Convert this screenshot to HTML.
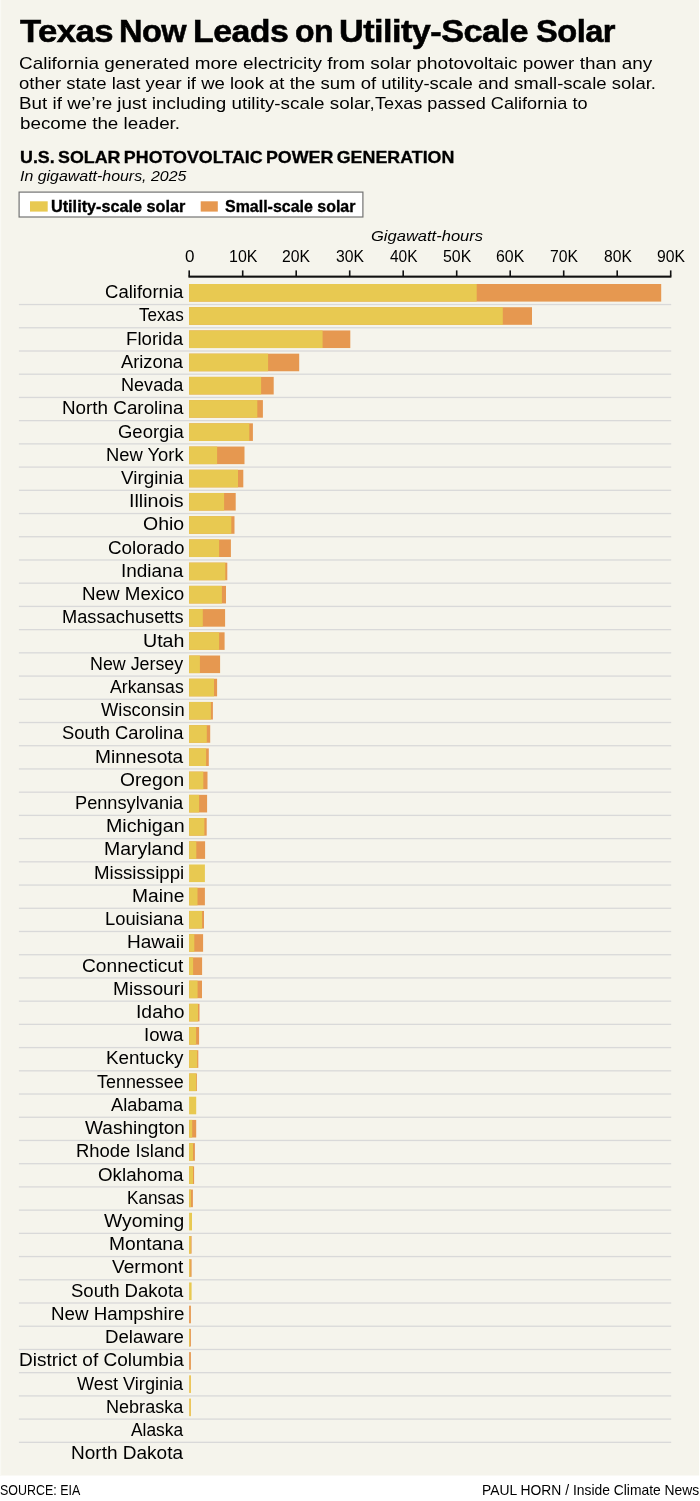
<!DOCTYPE html><html><head><meta charset="utf-8"><title>Texas Now Leads on Utility-Scale Solar</title><style>
html,body{margin:0;padding:0;background:#fff;}
body{width:700px;height:1501px;position:relative;overflow:hidden;font-family:"Liberation Sans",sans-serif;color:#000;}
svg{position:absolute;left:0;top:0;}
.t{position:absolute;white-space:nowrap;line-height:1;margin:0;padding:0;transform-origin:0 0;}
#tx{position:absolute;left:0;top:0;width:700px;height:1501px;will-change:transform;}
.y{fill:#e8c951}.o{fill:#e69850}.s{fill:#d9d9d9}.k{fill:#111}
</style></head><body>
<svg width="700" height="1501" viewBox="0 0 700 1501">
<rect x="0" y="0" width="699.1" height="1475.5" fill="#f5f4ec"/>
<rect x="0" y="0" width="1.2" height="1475.5" fill="#f9f9f4"/>
<rect x="19.1" y="192.1" width="343.8" height="24.9" fill="#fff" stroke="#737373" stroke-width="1.2"/>
<rect class="y" x="30" y="201.3" width="17.7" height="10.3"/>
<rect class="o" x="200.7" y="201.3" width="17.1" height="10.3"/>
<rect class="k" x="188.4" y="275.6" width="483.0" height="2.1"/>
<rect class="k" x="188.40" y="270.4" width="1.6" height="6"/>
<rect class="k" x="241.90" y="270.4" width="1.6" height="6"/>
<rect class="k" x="295.40" y="270.4" width="1.6" height="6"/>
<rect class="k" x="348.90" y="270.4" width="1.6" height="6"/>
<rect class="k" x="402.40" y="270.4" width="1.6" height="6"/>
<rect class="k" x="455.90" y="270.4" width="1.6" height="6"/>
<rect class="k" x="509.40" y="270.4" width="1.6" height="6"/>
<rect class="k" x="562.90" y="270.4" width="1.6" height="6"/>
<rect class="k" x="616.40" y="270.4" width="1.6" height="6"/>
<rect class="k" x="669.90" y="270.4" width="1.6" height="6"/>
<rect class="o" x="189.1" y="284.00" width="472.1" height="17.6"/>
<rect class="y" x="189.1" y="284.00" width="287.6" height="17.6"/>
<rect class="s" x="18.9" y="303.90" width="652.3" height="1.3"/>
<rect class="o" x="189.1" y="307.22" width="342.9" height="17.6"/>
<rect class="y" x="189.1" y="307.22" width="313.7" height="17.6"/>
<rect class="s" x="18.9" y="327.12" width="652.3" height="1.3"/>
<rect class="o" x="189.1" y="330.44" width="161.2" height="17.6"/>
<rect class="y" x="189.1" y="330.44" width="133.5" height="17.6"/>
<rect class="s" x="18.9" y="350.34" width="652.3" height="1.3"/>
<rect class="o" x="189.1" y="353.66" width="110.1" height="17.6"/>
<rect class="y" x="189.1" y="353.66" width="79.0" height="17.6"/>
<rect class="s" x="18.9" y="373.56" width="652.3" height="1.3"/>
<rect class="o" x="189.1" y="376.88" width="84.6" height="17.6"/>
<rect class="y" x="189.1" y="376.88" width="72.0" height="17.6"/>
<rect class="s" x="18.9" y="396.78" width="652.3" height="1.3"/>
<rect class="o" x="189.1" y="400.10" width="73.8" height="17.6"/>
<rect class="y" x="189.1" y="400.10" width="68.2" height="17.6"/>
<rect class="s" x="18.9" y="420.00" width="652.3" height="1.3"/>
<rect class="o" x="189.1" y="423.32" width="63.8" height="17.6"/>
<rect class="y" x="189.1" y="423.32" width="60.2" height="17.6"/>
<rect class="s" x="18.9" y="443.22" width="652.3" height="1.3"/>
<rect class="o" x="189.1" y="446.54" width="55.4" height="17.6"/>
<rect class="y" x="189.1" y="446.54" width="28.0" height="17.6"/>
<rect class="s" x="18.9" y="466.44" width="652.3" height="1.3"/>
<rect class="o" x="189.1" y="469.76" width="54.2" height="17.6"/>
<rect class="y" x="189.1" y="469.76" width="48.9" height="17.6"/>
<rect class="s" x="18.9" y="489.66" width="652.3" height="1.3"/>
<rect class="o" x="189.1" y="492.98" width="46.6" height="17.6"/>
<rect class="y" x="189.1" y="492.98" width="35.0" height="17.6"/>
<rect class="s" x="18.9" y="512.88" width="652.3" height="1.3"/>
<rect class="o" x="189.1" y="516.20" width="45.4" height="17.6"/>
<rect class="y" x="189.1" y="516.20" width="42.2" height="17.6"/>
<rect class="s" x="18.9" y="536.10" width="652.3" height="1.3"/>
<rect class="o" x="189.1" y="539.42" width="41.8" height="17.6"/>
<rect class="y" x="189.1" y="539.42" width="30.0" height="17.6"/>
<rect class="s" x="18.9" y="559.32" width="652.3" height="1.3"/>
<rect class="o" x="189.1" y="562.64" width="38.2" height="17.6"/>
<rect class="y" x="189.1" y="562.64" width="36.2" height="17.6"/>
<rect class="s" x="18.9" y="582.54" width="652.3" height="1.3"/>
<rect class="o" x="189.1" y="585.86" width="36.9" height="17.6"/>
<rect class="y" x="189.1" y="585.86" width="32.8" height="17.6"/>
<rect class="s" x="18.9" y="605.76" width="652.3" height="1.3"/>
<rect class="o" x="189.1" y="609.08" width="36.0" height="17.6"/>
<rect class="y" x="189.1" y="609.08" width="13.7" height="17.6"/>
<rect class="s" x="18.9" y="628.98" width="652.3" height="1.3"/>
<rect class="o" x="189.1" y="632.30" width="35.5" height="17.6"/>
<rect class="y" x="189.1" y="632.30" width="30.0" height="17.6"/>
<rect class="s" x="18.9" y="652.20" width="652.3" height="1.3"/>
<rect class="o" x="189.1" y="655.52" width="31.0" height="17.6"/>
<rect class="y" x="189.1" y="655.52" width="10.8" height="17.6"/>
<rect class="s" x="18.9" y="675.42" width="652.3" height="1.3"/>
<rect class="o" x="189.1" y="678.74" width="28.0" height="17.6"/>
<rect class="y" x="189.1" y="678.74" width="24.9" height="17.6"/>
<rect class="s" x="18.9" y="698.64" width="652.3" height="1.3"/>
<rect class="o" x="189.1" y="701.96" width="23.8" height="17.6"/>
<rect class="y" x="189.1" y="701.96" width="21.8" height="17.6"/>
<rect class="s" x="18.9" y="721.86" width="652.3" height="1.3"/>
<rect class="o" x="189.1" y="725.18" width="21.1" height="17.6"/>
<rect class="y" x="189.1" y="725.18" width="17.7" height="17.6"/>
<rect class="s" x="18.9" y="745.08" width="652.3" height="1.3"/>
<rect class="o" x="189.1" y="748.40" width="19.7" height="17.6"/>
<rect class="y" x="189.1" y="748.40" width="17.0" height="17.6"/>
<rect class="s" x="18.9" y="768.30" width="652.3" height="1.3"/>
<rect class="o" x="189.1" y="771.62" width="18.4" height="17.6"/>
<rect class="y" x="189.1" y="771.62" width="14.2" height="17.6"/>
<rect class="s" x="18.9" y="791.52" width="652.3" height="1.3"/>
<rect class="o" x="189.1" y="794.84" width="18.0" height="17.6"/>
<rect class="y" x="189.1" y="794.84" width="10.0" height="17.6"/>
<rect class="s" x="18.9" y="814.74" width="652.3" height="1.3"/>
<rect class="o" x="189.1" y="818.06" width="17.6" height="17.6"/>
<rect class="y" x="189.1" y="818.06" width="15.3" height="17.6"/>
<rect class="s" x="18.9" y="837.96" width="652.3" height="1.3"/>
<rect class="o" x="189.1" y="841.28" width="16.0" height="17.6"/>
<rect class="y" x="189.1" y="841.28" width="7.2" height="17.6"/>
<rect class="s" x="18.9" y="861.18" width="652.3" height="1.3"/>
<rect class="y" x="189.1" y="864.50" width="15.8" height="17.6"/>
<rect class="s" x="18.9" y="884.40" width="652.3" height="1.3"/>
<rect class="o" x="189.1" y="887.72" width="15.8" height="17.6"/>
<rect class="y" x="189.1" y="887.72" width="8.4" height="17.6"/>
<rect class="s" x="18.9" y="907.62" width="652.3" height="1.3"/>
<rect class="o" x="189.1" y="910.94" width="14.9" height="17.6"/>
<rect class="y" x="189.1" y="910.94" width="13.0" height="17.6"/>
<rect class="s" x="18.9" y="930.84" width="652.3" height="1.3"/>
<rect class="o" x="189.1" y="934.16" width="14.0" height="17.6"/>
<rect class="y" x="189.1" y="934.16" width="5.2" height="17.6"/>
<rect class="s" x="18.9" y="954.06" width="652.3" height="1.3"/>
<rect class="o" x="189.1" y="957.38" width="13.0" height="17.6"/>
<rect class="y" x="189.1" y="957.38" width="4.0" height="17.6"/>
<rect class="s" x="18.9" y="977.28" width="652.3" height="1.3"/>
<rect class="o" x="189.1" y="980.60" width="12.9" height="17.6"/>
<rect class="y" x="189.1" y="980.60" width="8.5" height="17.6"/>
<rect class="s" x="18.9" y="1000.50" width="652.3" height="1.3"/>
<rect class="o" x="189.1" y="1003.82" width="10.4" height="17.6"/>
<rect class="y" x="189.1" y="1003.82" width="8.9" height="17.6"/>
<rect class="s" x="18.9" y="1023.72" width="652.3" height="1.3"/>
<rect class="o" x="189.1" y="1027.04" width="10.0" height="17.6"/>
<rect class="y" x="189.1" y="1027.04" width="7.0" height="17.6"/>
<rect class="s" x="18.9" y="1046.94" width="652.3" height="1.3"/>
<rect class="o" x="189.1" y="1050.26" width="9.2" height="17.6"/>
<rect class="y" x="189.1" y="1050.26" width="8.1" height="17.6"/>
<rect class="s" x="18.9" y="1070.16" width="652.3" height="1.3"/>
<rect class="o" x="189.1" y="1073.48" width="7.8" height="17.6"/>
<rect class="y" x="189.1" y="1073.48" width="7.1" height="17.6"/>
<rect class="s" x="18.9" y="1093.38" width="652.3" height="1.3"/>
<rect class="y" x="189.1" y="1096.70" width="7.1" height="17.6"/>
<rect class="s" x="18.9" y="1116.60" width="652.3" height="1.3"/>
<rect class="o" x="189.1" y="1119.92" width="7.1" height="17.6"/>
<rect class="y" x="189.1" y="1119.92" width="3.1" height="17.6"/>
<rect class="s" x="18.9" y="1139.82" width="652.3" height="1.3"/>
<rect class="o" x="189.1" y="1143.14" width="5.8" height="17.6"/>
<rect class="y" x="189.1" y="1143.14" width="3.9" height="17.6"/>
<rect class="s" x="18.9" y="1163.04" width="652.3" height="1.3"/>
<rect class="o" x="189.1" y="1166.36" width="5.0" height="17.6"/>
<rect class="y" x="189.1" y="1166.36" width="3.9" height="17.6"/>
<rect class="s" x="18.9" y="1186.26" width="652.3" height="1.3"/>
<rect class="o" x="189.1" y="1189.58" width="3.8" height="17.6"/>
<rect class="y" x="189.1" y="1189.58" width="1.8" height="17.6"/>
<rect class="s" x="18.9" y="1209.48" width="652.3" height="1.3"/>
<rect class="y" x="189.1" y="1212.80" width="2.9" height="17.6"/>
<rect class="s" x="18.9" y="1232.70" width="652.3" height="1.3"/>
<rect class="o" x="189.1" y="1236.02" width="2.5" height="17.6"/>
<rect class="y" x="189.1" y="1236.02" width="1.6" height="17.6"/>
<rect class="s" x="18.9" y="1255.92" width="652.3" height="1.3"/>
<rect class="o" x="189.1" y="1259.24" width="2.5" height="17.6"/>
<rect class="y" x="189.1" y="1259.24" width="1.2" height="17.6"/>
<rect class="s" x="18.9" y="1279.14" width="652.3" height="1.3"/>
<rect class="y" x="189.1" y="1282.46" width="2.5" height="17.6"/>
<rect class="s" x="18.9" y="1302.36" width="652.3" height="1.3"/>
<rect class="o" x="189.1" y="1305.68" width="1.8" height="17.6"/>
<rect class="s" x="18.9" y="1325.58" width="652.3" height="1.3"/>
<rect class="o" x="189.1" y="1328.90" width="1.8" height="17.6"/>
<rect class="y" x="189.1" y="1328.90" width="0.9" height="17.6"/>
<rect class="s" x="18.9" y="1348.80" width="652.3" height="1.3"/>
<rect class="o" x="189.1" y="1352.12" width="1.8" height="17.6"/>
<rect class="s" x="18.9" y="1372.02" width="652.3" height="1.3"/>
<rect class="y" style="fill:#ecc65c" x="189.1" y="1375.34" width="1.9" height="17.6"/>
<rect class="s" x="18.9" y="1395.24" width="652.3" height="1.3"/>
<rect class="y" style="fill:#ecc65c" x="189.1" y="1398.56" width="1.9" height="17.6"/>
<rect class="s" x="18.9" y="1418.46" width="652.3" height="1.3"/>
<rect class="s" x="18.9" y="1441.68" width="652.3" height="1.3"/>
</svg>
<div id="tx">
<div class="t" id="tt0" style="left:20.00px;top:16.28px;font-size:31.80px;font-weight:700;letter-spacing:-0.50px;-webkit-text-stroke:0.55px #000;transform:scaleX(1.0918);">Texas</div>
<div class="t" id="tt1" style="left:119.00px;top:16.28px;font-size:31.80px;font-weight:700;letter-spacing:-0.50px;-webkit-text-stroke:0.55px #000;transform:scaleX(1.0224);">Now</div>
<div class="t" id="tt2" style="left:193.00px;top:16.28px;font-size:31.80px;font-weight:700;letter-spacing:-0.50px;-webkit-text-stroke:0.55px #000;transform:scaleX(1.0650);">Leads</div>
<div class="t" id="tt3" style="left:295.00px;top:16.28px;font-size:31.80px;font-weight:700;letter-spacing:-0.50px;-webkit-text-stroke:0.55px #000;transform:scaleX(1.0054);">on</div>
<div class="t" id="tt4" style="left:339.00px;top:16.28px;font-size:31.80px;font-weight:700;letter-spacing:-0.50px;-webkit-text-stroke:0.55px #000;transform:scaleX(1.0768);">Utility-Scale</div>
<div class="t" id="tt5" style="left:536.00px;top:16.28px;font-size:31.80px;font-weight:700;letter-spacing:-0.50px;-webkit-text-stroke:0.55px #000;transform:scaleX(1.0259);">Solar</div>
<div class="t" id="b0" style="left:19.00px;top:55.11px;font-size:17.00px;transform:scaleX(1.1132);">California generated more electricity from solar photovoltaic power than any</div>
<div class="t" id="b1" style="left:19.00px;top:75.11px;font-size:17.00px;transform:scaleX(1.0891);">other state last year if we look at the sum of utility-scale and small-scale solar.</div>
<div class="t" id="b2" style="left:19.00px;top:95.11px;font-size:17.00px;transform:scaleX(1.1076);">But if we’re just including utility-scale solar,</div>
<div class="t" id="b2b" style="left:375.00px;top:95.11px;font-size:17.00px;transform:scaleX(1.0658);">Texas passed California to</div>
<div class="t" id="b3" style="left:20.00px;top:115.11px;font-size:17.00px;transform:scaleX(1.1069);">become the leader.</div>
<div class="t" id="head" style="left:20.00px;top:150.25px;font-size:16.60px;font-weight:700;-webkit-text-stroke:0.3px #000;word-spacing:-1.5px;transform:scaleX(1.0753);">U.S. SOLAR PHOTOVOLTAIC POWER GENERATION</div>
<div class="t" id="sub" style="left:20.00px;top:169.14px;font-size:14.60px;font-style:italic;transform:scaleX(1.0907);">In gigawatt-hours, 2025</div>
<div class="t" id="lg1" style="left:51.00px;top:199.15px;font-size:16.60px;font-weight:700;-webkit-text-stroke:0.35px #000;transform:scaleX(0.9775);">Utility-scale solar</div>
<div class="t" id="lg2" style="left:225.00px;top:199.15px;font-size:16.60px;font-weight:700;-webkit-text-stroke:0.35px #000;transform:scaleX(0.9618);">Small-scale solar</div>
<div class="t" id="gwh" style="left:371.00px;top:227.96px;font-size:15.40px;font-style:italic;transform:scaleX(1.0736);">Gigawatt-hours</div>
<div class="t" id="ax0" style="left:185.00px;top:248.20px;font-size:16.30px;transform:scaleX(1.0437);">0</div>
<div class="t" id="ax1" style="left:229.00px;top:248.20px;font-size:16.30px;transform:scaleX(0.9803);">10K</div>
<div class="t" id="ax2" style="left:282.00px;top:248.20px;font-size:16.30px;transform:scaleX(0.9669);">20K</div>
<div class="t" id="ax3" style="left:336.00px;top:248.20px;font-size:16.30px;transform:scaleX(0.9644);">30K</div>
<div class="t" id="ax4" style="left:390.00px;top:248.20px;font-size:16.30px;transform:scaleX(0.9502);">40K</div>
<div class="t" id="ax5" style="left:443.00px;top:248.20px;font-size:16.30px;transform:scaleX(0.9759);">50K</div>
<div class="t" id="ax6" style="left:496.00px;top:248.20px;font-size:16.30px;transform:scaleX(0.9753);">60K</div>
<div class="t" id="ax7" style="left:550.00px;top:248.20px;font-size:16.30px;transform:scaleX(0.9647);">70K</div>
<div class="t" id="ax8" style="left:604.00px;top:248.20px;font-size:16.30px;transform:scaleX(0.9607);">80K</div>
<div class="t" id="ax9" style="left:657.00px;top:248.20px;font-size:16.30px;transform:scaleX(0.9648);">90K</div>
<div class="t" id="r0" style="left:105.00px;top:283.21px;font-size:18.30px;transform:scaleX(1.0141);">California</div>
<div class="t" id="r1" style="left:139.00px;top:306.43px;font-size:18.30px;transform:scaleX(0.9356);">Texas</div>
<div class="t" id="r2" style="left:126.00px;top:329.65px;font-size:18.30px;transform:scaleX(1.0200);">Florida</div>
<div class="t" id="r3" style="left:121.00px;top:352.87px;font-size:18.30px;transform:scaleX(1.0011);">Arizona</div>
<div class="t" id="r4" style="left:121.00px;top:376.09px;font-size:18.30px;transform:scaleX(0.9885);">Nevada</div>
<div class="t" id="r5" style="left:62.00px;top:399.31px;font-size:18.30px;transform:scaleX(1.0302);">North Carolina</div>
<div class="t" id="r6" style="left:118.00px;top:422.53px;font-size:18.30px;transform:scaleX(1.0098);">Georgia</div>
<div class="t" id="r7" style="left:106.00px;top:445.75px;font-size:18.30px;transform:scaleX(1.0050);">New York</div>
<div class="t" id="r8" style="left:121.00px;top:468.97px;font-size:18.30px;transform:scaleX(1.0312);">Virginia</div>
<div class="t" id="r9" style="left:129.00px;top:492.19px;font-size:18.30px;transform:scaleX(1.0746);">Illinois</div>
<div class="t" id="r10" style="left:143.00px;top:515.41px;font-size:18.30px;transform:scaleX(1.0668);">Ohio</div>
<div class="t" id="r11" style="left:108.00px;top:538.63px;font-size:18.30px;transform:scaleX(1.0317);">Colorado</div>
<div class="t" id="r12" style="left:121.00px;top:561.85px;font-size:18.30px;transform:scaleX(1.0368);">Indiana</div>
<div class="t" id="r13" style="left:82.00px;top:585.07px;font-size:18.30px;transform:scaleX(1.0268);">New Mexico</div>
<div class="t" id="r14" style="left:62.00px;top:608.29px;font-size:18.30px;transform:scaleX(0.9964);">Massachusetts</div>
<div class="t" id="r15" style="left:143.00px;top:631.51px;font-size:18.30px;transform:scaleX(1.0734);">Utah</div>
<div class="t" id="r16" style="left:90.00px;top:654.73px;font-size:18.30px;transform:scaleX(0.9757);">New Jersey</div>
<div class="t" id="r17" style="left:110.00px;top:677.95px;font-size:18.30px;transform:scaleX(0.9680);">Arkansas</div>
<div class="t" id="r18" style="left:101.00px;top:701.17px;font-size:18.30px;transform:scaleX(1.0040);">Wisconsin</div>
<div class="t" id="r19" style="left:62.00px;top:724.39px;font-size:18.30px;transform:scaleX(1.0041);">South Carolina</div>
<div class="t" id="r20" style="left:95.00px;top:747.61px;font-size:18.30px;transform:scaleX(1.0464);">Minnesota</div>
<div class="t" id="r21" style="left:120.00px;top:770.83px;font-size:18.30px;transform:scaleX(1.0506);">Oregon</div>
<div class="t" id="r22" style="left:75.00px;top:794.05px;font-size:18.30px;transform:scaleX(0.9948);">Pennsylvania</div>
<div class="t" id="r23" style="left:106.00px;top:817.27px;font-size:18.30px;transform:scaleX(1.0748);">Michigan</div>
<div class="t" id="r24" style="left:104.00px;top:840.49px;font-size:18.30px;transform:scaleX(1.0643);">Maryland</div>
<div class="t" id="r25" style="left:94.00px;top:863.71px;font-size:18.30px;transform:scaleX(1.0210);">Mississippi</div>
<div class="t" id="r26" style="left:132.00px;top:886.93px;font-size:18.30px;transform:scaleX(1.0508);">Maine</div>
<div class="t" id="r27" style="left:105.00px;top:910.15px;font-size:18.30px;transform:scaleX(1.0029);">Louisiana</div>
<div class="t" id="r28" style="left:127.00px;top:933.37px;font-size:18.30px;transform:scaleX(1.0424);">Hawaii</div>
<div class="t" id="r29" style="left:82.00px;top:956.59px;font-size:18.30px;transform:scaleX(1.0486);">Connecticut</div>
<div class="t" id="r30" style="left:113.00px;top:979.81px;font-size:18.30px;transform:scaleX(1.0488);">Missouri</div>
<div class="t" id="r31" style="left:136.00px;top:1003.03px;font-size:18.30px;transform:scaleX(1.0581);">Idaho</div>
<div class="t" id="r32" style="left:144.00px;top:1026.25px;font-size:18.30px;transform:scaleX(1.0166);">Iowa</div>
<div class="t" id="r33" style="left:106.00px;top:1049.47px;font-size:18.30px;transform:scaleX(1.0311);">Kentucky</div>
<div class="t" id="r34" style="left:97.00px;top:1072.69px;font-size:18.30px;transform:scaleX(0.9802);">Tennessee</div>
<div class="t" id="r35" style="left:111.00px;top:1095.91px;font-size:18.30px;transform:scaleX(0.9995);">Alabama</div>
<div class="t" id="r36" style="left:85.00px;top:1119.13px;font-size:18.30px;transform:scaleX(1.0429);">Washington</div>
<div class="t" id="r37" style="left:76.00px;top:1142.35px;font-size:18.30px;transform:scaleX(1.0085);">Rhode Island</div>
<div class="t" id="r38" style="left:98.00px;top:1165.57px;font-size:18.30px;transform:scaleX(1.0263);">Oklahoma</div>
<div class="t" id="r39" style="left:127.00px;top:1188.79px;font-size:18.30px;transform:scaleX(0.9393);">Kansas</div>
<div class="t" id="r40" style="left:104.00px;top:1212.01px;font-size:18.30px;transform:scaleX(1.0556);">Wyoming</div>
<div class="t" id="r41" style="left:109.00px;top:1235.23px;font-size:18.30px;transform:scaleX(1.0502);">Montana</div>
<div class="t" id="r42" style="left:112.00px;top:1258.45px;font-size:18.30px;transform:scaleX(1.0472);">Vermont</div>
<div class="t" id="r43" style="left:71.00px;top:1281.67px;font-size:18.30px;transform:scaleX(1.0142);">South Dakota</div>
<div class="t" id="r44" style="left:51.00px;top:1304.89px;font-size:18.30px;transform:scaleX(1.0253);">New Hampshire</div>
<div class="t" id="r45" style="left:105.00px;top:1328.11px;font-size:18.30px;transform:scaleX(1.0213);">Delaware</div>
<div class="t" id="r46" style="left:19.00px;top:1351.33px;font-size:18.30px;transform:scaleX(1.0394);">District of Columbia</div>
<div class="t" id="r47" style="left:77.00px;top:1374.55px;font-size:18.30px;transform:scaleX(0.9924);">West Virginia</div>
<div class="t" id="r48" style="left:106.00px;top:1397.77px;font-size:18.30px;transform:scaleX(0.9876);">Nebraska</div>
<div class="t" id="r49" style="left:131.00px;top:1420.99px;font-size:18.30px;transform:scaleX(0.9493);">Alaska</div>
<div class="t" id="r50" style="left:71.00px;top:1444.21px;font-size:18.30px;transform:scaleX(1.0398);">North Dakota</div>
<div class="t" id="src" style="left:0.00px;top:1483.47px;font-size:14.80px;transform:scaleX(0.8413);">SOURCE: EIA</div>
<div class="t" id="cred" style="left:482.00px;top:1483.47px;font-size:14.80px;transform:scaleX(0.9368);">PAUL HORN / Inside Climate News</div>
</div>
</body></html>
